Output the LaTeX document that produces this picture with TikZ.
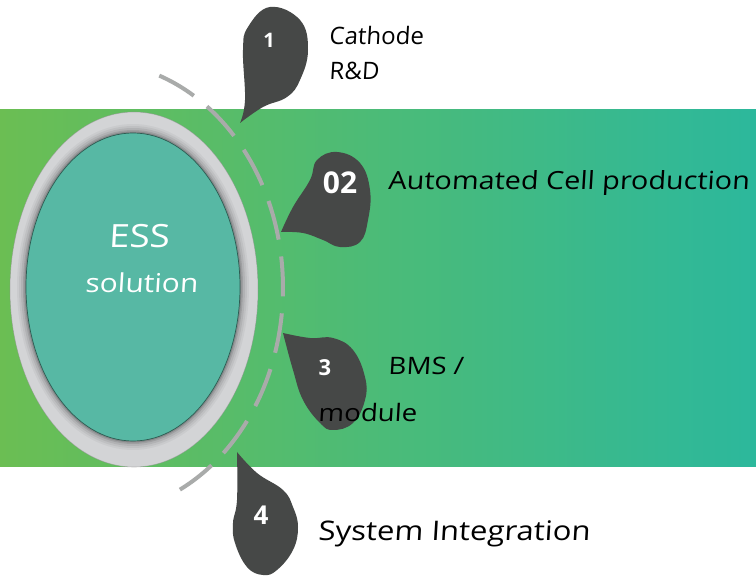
\documentclass[tikz,border=0pt]{standalone}
\usepackage{fontspec}
\setmainfont{Open Sans}
\newfontfamily\hand[FakeSlant=0.06, FakeStretch=1.15]{Open Sans}
\newfontfamily\handnarrow[FakeSlant=0.06]{Open Sans}
\definecolor{bandL}{HTML}{6BBE53}
\definecolor{bandR}{HTML}{2CB89C}
\definecolor{ringgray}{HTML}{D3D4D6}
\definecolor{coreteal}{HTML}{57B8A4}
\definecolor{dashgray}{HTML}{A9ABAA}
\definecolor{dropgray}{HTML}{464847}
\begin{document}
\begin{tikzpicture}[x=1pt,y=-1pt,
  drop/.style={fill=dropgray},
  num/.style={text=white,inner sep=0,font=\bfseries\fontsize{#1}{#1}\selectfont},
  lbl/.style={anchor=base west,inner sep=0,font=\hand\fontsize{#1}{#1}\selectfont},
  lblnarrow/.style={anchor=base west,inner sep=0,font=\handnarrow\fontsize{#1}{#1}\selectfont},
  core/.style={text=white,anchor=base,inner sep=0,font=\hand\fontsize{#1}{#1}\selectfont},
]
\useasboundingbox (0,0) rectangle (756,577);
\fill[white] (0,0) rectangle (756,577);
% colour band
\shade[left color=bandL, right color=bandR] (0,110) rectangle (756,467);

% grey ring with inner shadow
\fill[ringgray] (134,289.5) ellipse [x radius=124, y radius=177.5];
\draw[black!45, opacity=0.5, line width=0.6] (134,289.5) ellipse [x radius=124, y radius=177.5];
\foreach \w/\o in {18/0.04, 14/0.05, 10/0.07, 6/0.1, 3/0.14}
  \draw[black, opacity=\o, line width=\w] (133,287) ellipse [x radius=107, y radius=154];
\fill[coreteal] (133,287) ellipse [x radius=107, y radius=154];
\draw[black!50!coreteal, line width=0.7] (133,287) ellipse [x radius=107, y radius=154];

% dashed orbit
\draw[dashgray, line width=4pt, dash pattern=on 40pt off 17pt]
  plot[domain=-70:67, samples=120, smooth] ({95+188*cos(\x)},{288+226*sin(\x)});

% pointer drops
\fill[drop] plot[smooth, tension=0.7] coordinates {(240,123) (245,100) (243,50) (248,27) (270,7) (300,20) (308,50) (300,80) (287,97) (263,107) (240,123)} -- cycle;
\fill[drop] plot[smooth, tension=0.7] coordinates {(281,232) (293,207) (310,180) (317,160) (337,152) (360,163) (370,190) (368,220) (360,242) (340,247) (323,240) (303,233) (281,232)} -- cycle;
\fill[drop] plot[smooth, tension=0.7] coordinates {(283,333) (310,338) (333,338) (353,350) (365,377) (365,400) (353,423) (333,430) (320,423) (303,400) (293,370) (283,333)} -- cycle;
\fill[drop] plot[smooth, tension=0.7] coordinates {(237,452) (257,473) (283,490) (293,507) (298,527) (293,550) (277,570) (263,575) (247,567) (235,543) (233,523) (237,500) (237,452)} -- cycle;

% numbers
\node[num=20] (n1) at (269,40) {1};
\node[num=30] (n2) at (340,183) {02};
\node[num=22] (n3) at (325,368) {3};
\node[num=26] (n4) at (261,515) {4};

% labels
\node[core=32] (ess) at (139,248) {ESS};
\node[core=26] (sol) at (141.5,293) {solution};
\node[lblnarrow=24] (cath) at (329,45) {Cathode};
\node[lblnarrow=24] (rd) at (329,80) {R\&D};
\node[lbl=25] (acp) at (388,190) {Automated Cell production};
\node[lbl=24] (bms) at (388,375) {BMS /};
\node[lbl=24] (mod) at (318,422) {module};
\node[lbl=27] (sys) at (318,540) {System Integration};
\end{tikzpicture}
\end{document}
